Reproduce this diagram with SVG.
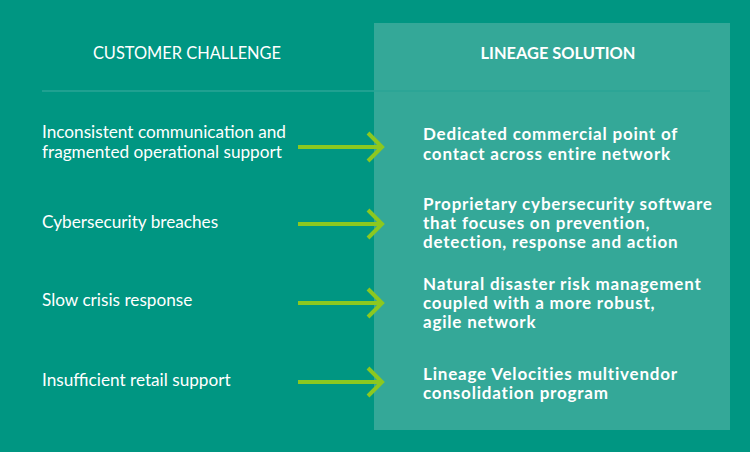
<svg xmlns="http://www.w3.org/2000/svg" width="750" height="452" viewBox="0 0 750 452">
<style>
.l{font-family:Lato,"Open Sans",sans-serif;font-size:17.2px;fill:#fff}
.r{font-family:Lato,"Open Sans",sans-serif;font-size:17px;font-weight:bold;fill:#fff;letter-spacing:0.8px}
.h{font-family:Lato,"Open Sans",sans-serif;font-size:16.4px;fill:#fff}
.a{stroke:#8cc820;stroke-width:4;fill:none}
</style>
<rect width="750" height="452" fill="#009682"/>
<rect x="374" y="23" width="356" height="407" fill="#34a898"/>
<line x1="42" y1="91" x2="710" y2="91" stroke="#2aa596" stroke-width="1.5"/>
<g id="header"><text class="h" x="187" y="59" text-anchor="middle">CUSTOMER CHALLENGE</text>
<text class="h" x="558" y="59" text-anchor="middle" font-weight="bold">LINEAGE SOLUTION</text></g>
<g id="c1"><text class="l" x="42" y="138">Inconsistent communication and</text><text class="l" x="42" y="158">fragmented operational support</text></g>
<g id="c2"><text class="l" x="42" y="228">Cybersecurity breaches</text></g>
<g id="c3"><text class="l" x="42" y="306">Slow crisis response</text></g>
<g id="c4"><text class="l" x="42" y="386">Insufficient retail support</text></g>
<g id="s1"><text class="r" x="423" y="140">Dedicated commercial point of</text><text class="r" x="423" y="160">contact across entire network</text></g>
<g id="s2"><text class="r" x="423" y="210">Proprietary cybersecurity software</text><text class="r" x="423" y="229">that focuses on prevention,</text><text class="r" x="423" y="248">detection, response and action</text></g>
<g id="s3"><text class="r" x="423" y="290">Natural disaster risk management</text><text class="r" x="423" y="309">coupled with a more robust,</text><text class="r" x="423" y="328">agile network</text></g>
<g id="s4"><text class="r" x="423" y="380">Lineage Velocities multivendor</text><text class="r" x="423" y="399">consolidation program</text></g>
<g id="connectors">
<path class="a" d="M298 147H382M368 133L382 147L368 161"/>
<path class="a" d="M298 224H382M368 210L382 224L368 238"/>
<path class="a" d="M298 303H382M368 289L382 303L368 317"/>
<path class="a" d="M298 382H382M368 368L382 382L368 396"/>
</g>
</svg>
